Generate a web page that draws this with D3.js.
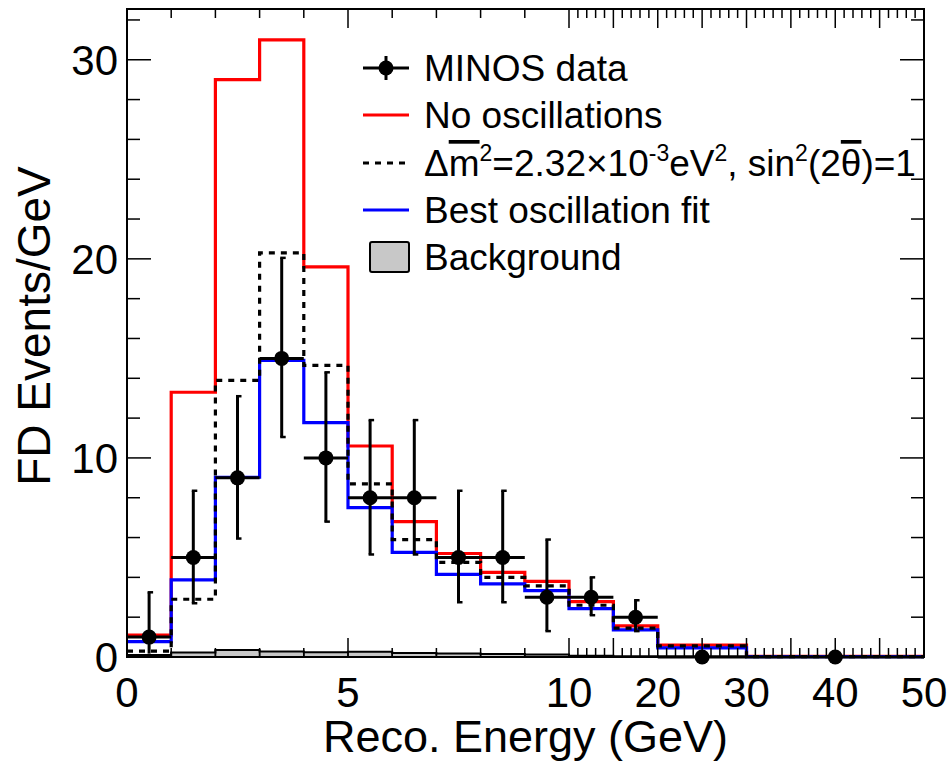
<!DOCTYPE html>
<html>
<head>
<meta charset="utf-8">
<script src="https://cdn.jsdelivr.net/npm/d3@7"></script>
<style>
  html, body { margin: 0; padding: 0; background: #fff; }
  svg { display: block; font-family: "Liberation Sans", Arial, Helvetica, sans-serif; }
</style>
</head>
<body>
<svg id="chart" width="949" height="762"></svg>
<script>
// Reconstructed neutrino energy bins (GeV); display is linear 0-10 then compressed 10-50
const binEdges   = [0, 1, 2, 3, 4, 5, 6, 7, 8, 9, 10, 15, 20, 30, 50];
// Far Detector spectra in events/GeV
const noOscillation = [1.1, 13.3, 29.0, 31.0, 19.6, 10.6, 6.8, 5.2, 4.25, 3.8, 2.78, 1.56, 0.6, 0.03];
const maxMixing     = [0.3, 2.9, 13.9, 20.3, 14.65, 8.7, 5.9, 4.75, 4.0, 3.57, 2.6, 1.45, 0.56, 0.02];
const bestFit       = [0.77, 3.87, 9.03, 14.9, 11.77, 7.5, 5.26, 4.15, 3.67, 3.33, 2.43, 1.36, 0.46, 0.02];
const background    = [0.1, 0.22, 0.35, 0.28, 0.24, 0.26, 0.2, 0.18, 0.15, 0.12, 0.06, 0.04, 0.02, 0.01];
// Observed data with asymmetric Poisson intervals
const dataValues = [1, 5, 9, 15, 10, 8, 8, 5, 5, 3, 3, 2, 0, 0];
const dataLow    = [0.17, 2.7, 5.95, 11.05, 6.8, 5.15, 5.15, 2.75, 2.75, 1.3, 2.1, 1.3, 0, 0];
const dataHigh   = [3.25, 8.35, 13.1, 20.05, 14.3, 11.9, 11.9, 8.35, 8.35, 5.9, 4.0, 2.85, 0.18, 0.09];
// Axis ticks
const xLabelTicks = [0, 5, 10, 20, 30, 40, 50];
const xMajorTicks = [0, 5, 10, 15, 20, 25, 30, 35, 40, 45, 50];
const xMinorTicks = d3.range(0, 51, 1);
const yLabelTicks = [0, 10, 20, 30];
const yMinorTicks = d3.range(0, 33, 2);

(function draw() {
  const svg = d3.select("#chart");
  const pL = 127, pR = 924, pT = 9, pB = 657;

  const x = d3.scaleLinear().domain([0, 10, 50]).range([pL, 569, pR]);
  const y = d3.scaleLinear().domain([0, 32.55]).range([pB, pT]);

  const plot = svg.append("g");

  // background: filled step histogram
  const bins = binEdges.slice(0, -1).map((lo, i) => ({ lo, hi: binEdges[i + 1], i }));
  const stepLine = vals => {
    const pts = [];
    bins.forEach(b => { pts.push([x(b.lo), y(vals[b.i])]); pts.push([x(b.hi), y(vals[b.i])]); });
    return pts;
  };
  const bgPts = [[x(0), y(0)], ...stepLine(background), [x(50), y(0)]];
  plot.append("path")
    .attr("d", d3.line()(bgPts) + "Z")
    .attr("fill", "#c8c8c8")
    .attr("stroke", "#000")
    .attr("stroke-width", 2);
  // bin dividers of the background histogram
  plot.selectAll("line.bgdiv").data(bins.slice(1)).join("line")
    .attr("x1", b => x(b.lo)).attr("x2", b => x(b.lo))
    .attr("y1", y(0)).attr("y2", b => y(Math.max(background[b.i], background[b.i - 1])))
    .attr("stroke", "#000").attr("stroke-width", 1.5);

  const line = d3.line();
  const drawHist = (vals, color, dash) => {
    plot.append("path")
      .attr("d", line(stepLine(vals)))
      .attr("fill", "none")
      .attr("stroke", color)
      .attr("stroke-width", 3.2)
      .attr("stroke-dasharray", dash || null);
  };
  drawHist(noOscillation, "#ff0000");
  drawHist(bestFit, "#0000ff");
  drawHist(maxMixing, "#000000", "6,6");

  // frame and ticks
  svg.append("rect")
    .attr("x", pL).attr("y", pT)
    .attr("width", pR - pL).attr("height", pB - pT)
    .attr("fill", "none").attr("stroke", "#000")
    .attr("stroke-width", 2);

  const tickGroup = svg.append("g").attr("stroke", "#000").attr("stroke-width", 1.5);
  const xMinorOnly = xMinorTicks.filter(v => !xMajorTicks.includes(v));
  const xMajInner = xMajorTicks.filter(v => v > 0 && v < 50);
  const vTicks = (cls, data, y1, y2) =>
    tickGroup.selectAll("line." + cls).data(data).join("line").attr("class", cls)
      .attr("x1", d => x(d)).attr("x2", d => x(d)).attr("y1", y1).attr("y2", y2);
  vTicks("xminb", xMinorOnly, pB, pB - 9);
  vTicks("xmint", xMinorOnly, pT, pT + 9);
  vTicks("xmajb", xMajInner, pB, pB - 19);
  vTicks("xmajt", xMajInner, pT, pT + 19);

  const yMinorOnly = yMinorTicks.filter(v => !yLabelTicks.includes(v));
  const yMajInner = yLabelTicks.filter(v => v > 0);
  const hTicks = (cls, data, x1, x2) =>
    tickGroup.selectAll("line." + cls).data(data).join("line").attr("class", cls)
      .attr("x1", x1).attr("x2", x2).attr("y1", d => y(d)).attr("y2", d => y(d));
  hTicks("ymin", yMinorOnly, pL, pL + 13);
  hTicks("yminr", yMinorOnly, pR, pR - 13);
  hTicks("ymaj", yMajInner, pL, pL + 24);
  hTicks("ymajr", yMajInner, pR, pR - 24);

  // tick labels
  svg.append("g").selectAll("text").data(xLabelTicks).join("text")
    .attr("x", d => x(d)).attr("y", 707)
    .attr("text-anchor", "middle")
    .attr("font-size", 42)
    .text(d => d);
  svg.append("g").selectAll("text").data(yLabelTicks).join("text")
    .attr("x", 118).attr("y", d => y(d) + 15)
    .attr("text-anchor", "end")
    .attr("font-size", 42)
    .text(d => d);

  // axis titles
  svg.append("text")
    .attr("x", (pL + pR) / 2).attr("y", 752)
    .attr("text-anchor", "middle").attr("font-size", 45)
    .text("Reco. Energy (GeV)");
  svg.append("text")
    .attr("transform", "translate(50,326) rotate(-90)")
    .attr("text-anchor", "middle").attr("font-size", 46)
    .text("FD Events/GeV");

  // data points with error bars
  const pts = bins.map(b => ({
    lo: b.lo, hi: b.hi, c: (b.lo + b.hi) / 2,
    v: dataValues[b.i], el: dataLow[b.i], eh: dataHigh[b.i]
  }));
  const dg = svg.append("g").attr("stroke", "#000");
  dg.selectAll("line.h").data(pts).join("line").attr("class", "h")
    .attr("x1", d => x(d.lo)).attr("x2", d => x(d.hi))
    .attr("y1", d => y(d.v)).attr("y2", d => y(d.v))
    .attr("stroke-width", 3);
  dg.selectAll("line.v").data(pts).join("line").attr("class", "v")
    .attr("x1", d => x(d.c)).attr("x2", d => x(d.c))
    .attr("y1", d => y(d.el)).attr("y2", d => y(d.eh))
    .attr("stroke-width", 3);
  dg.selectAll("line.cap1").data(pts.filter(d => d.v > 0)).join("line").attr("class", "cap1")
    .attr("x1", d => x(d.c) - 1.5).attr("x2", d => x(d.c) + 4)
    .attr("y1", d => y(d.eh)).attr("y2", d => y(d.eh))
    .attr("stroke-width", 2.5);
  dg.selectAll("line.cap2").data(pts.filter(d => d.v > 0 && d.el > 0.5)).join("line").attr("class", "cap2")
    .attr("x1", d => x(d.c) - 1.5).attr("x2", d => x(d.c) + 4)
    .attr("y1", d => y(d.el)).attr("y2", d => y(d.el))
    .attr("stroke-width", 2.5);
  svg.append("g").selectAll("circle").data(pts).join("circle")
    .attr("cx", d => x(d.c)).attr("cy", d => y(d.v)).attr("r", 7.5)
    .attr("fill", "#000");

  // legend
  const lg = svg.append("g").attr("font-size", 37);
  const rowY = [68, 115, 163, 210, 257];
  const symX0 = 363, symX1 = 409, textX = 424;
  const legLine = (yy, color, dash) => lg.append("line")
    .attr("x1", symX0).attr("x2", symX1).attr("y1", yy).attr("y2", yy)
    .attr("stroke", color).attr("stroke-width", 3).attr("stroke-dasharray", dash || null);
  legLine(rowY[0], "#000");
  lg.append("line").attr("x1", 386).attr("x2", 386).attr("y1", rowY[0] - 12).attr("y2", rowY[0] + 12)
    .attr("stroke", "#000").attr("stroke-width", 3);
  lg.append("circle").attr("cx", 386).attr("cy", rowY[0]).attr("r", 7.5).attr("fill", "#000");
  legLine(rowY[1], "#ff0000");
  legLine(rowY[2], "#000", "6,6");
  legLine(rowY[3], "#0000ff");
  lg.append("rect").attr("x", 370).attr("y", rowY[4] - 15).attr("width", 39).attr("height", 30)
    .attr("rx", 2).attr("fill", "#c8c8c8").attr("stroke", "#000").attr("stroke-width", 2);

  const base = 13;
  lg.append("text").attr("x", textX).attr("y", rowY[0] + base).text("MINOS data");
  lg.append("text").attr("x", textX).attr("y", rowY[1] + base).text("No oscillations");
  lg.append("text").attr("x", textX).attr("y", rowY[3] + base).text("Best oscillation fit");
  lg.append("text").attr("x", textX).attr("y", rowY[4] + base).text("Background");

  // oscillation parameters label with superscripts and overlined symbols
  const parts = [
    { t: "Δ" }, { t: "m", over: true }, { t: "2", sup: true },
    { t: "=2.32×10" }, { t: "-3", sup: true },
    { t: "eV" }, { t: "2", sup: true },
    { t: ", sin" }, { t: "2", sup: true },
    { t: "(2" }, { t: "θ", over: true }, { t: ")=1" }
  ];
  const t3 = lg.append("text").attr("x", textX).attr("y", rowY[2] + base);
  let raised = false;
  parts.forEach(p => {
    const sp = t3.append("tspan").text(p.t);
    if (p.sup && !raised) { sp.attr("dy", -15); raised = true; }
    else if (!p.sup && raised) { sp.attr("dy", 15); raised = false; }
    if (p.sup) sp.attr("font-size", 23);
    if (p.over) sp.attr("text-decoration", "overline");
  });
})();
</script>
</body>
</html>
